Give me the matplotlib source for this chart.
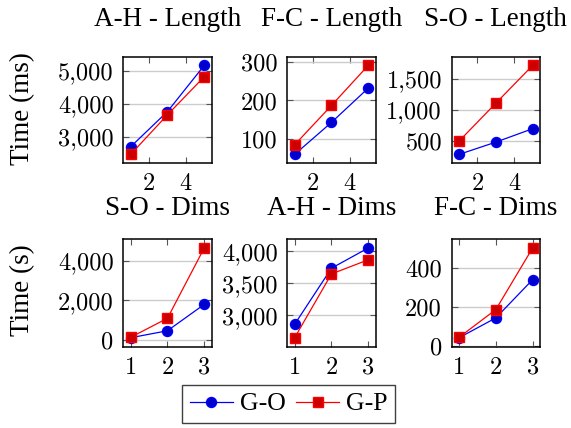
import numpy as np
import matplotlib.pyplot as plt
from matplotlib.ticker import FuncFormatter

# x values
x_len = [1, 3, 5]
x_dims = [1, 2, 3]

titles = ["A-H - Length", "F-C - Length", "S-O - Length",
          "S-O - Dims", "A-H - Dims", "F-C - Dims"]

go = [[2700, 3765, 5160],
      [60, 143, 232],
      [287, 484, 698],
      [120, 471, 1800],
      [2858, 3737, 4054],
      [41, 143, 340]]
gp = [[2470, 3667, 4818],
      [85, 187, 291],
      [500, 1107, 1712],
      [140, 1099, 4643],
      [2648, 3647, 3869],
      [43, 186, 503]]

yticks = [[3000, 4000, 5000],
          [100, 200, 300],
          [500, 1000, 1500],
          [0, 2000, 4000],
          [3000, 3500, 4000],
          [0, 200, 400]]

W, H = 571, 428
fig = plt.figure(figsize=(W / 100, H / 100), dpi=100)

lefts = [123.3, 287.3, 451.7]
rows = [(56.5, 163.3), (239.0, 346.7)]
pw = 88.3

TXT = "Liberation Serif"
TCK = "cmr10"

fmt = FuncFormatter(lambda v, p: f"{v:,.0f}")

for i in range(6):
    r, c = divmod(i, 3)
    top, bot = rows[r]
    ax = fig.add_axes([lefts[c] / W, 1 - bot / H, pw / W, (bot - top) / H])
    xs = x_len if r == 0 else x_dims
    ax.plot(xs, go[i], color="blue", lw=0.9, marker="o", ms=7.2,
            mfc="#0000cc", mec="blue", label="G-O", zorder=3)
    ax.plot(xs, gp[i], color="red", lw=0.9, marker="s", ms=7.6,
            mfc="#cc0000", mec="red", label="G-P", zorder=3)

    # pgfplots style 10% enlargement
    lo = min(xs); hi = max(xs); d = (hi - lo) * 0.1
    ax.set_xlim(lo - d, hi + d)
    allv = go[i] + gp[i]
    lo = min(allv); hi = max(allv); d = (hi - lo) * 0.1
    ax.set_ylim(lo - d, hi + d)

    ax.set_xticks([2, 4] if r == 0 else [1, 2, 3])
    ax.set_yticks(yticks[i])
    ax.yaxis.set_major_formatter(fmt)
    ax.grid(axis="y", color="#cccccc", lw=1.0, zorder=0)
    ax.tick_params(direction="in", length=4, width=0.8, color="#555555",
                   top=True, right=True, labelsize=17.5, pad=7)
    for lab in ax.get_xticklabels() + ax.get_yticklabels():
        lab.set_family(TCK)
    for s in ax.spines.values():
        s.set_linewidth(1.1)
    xc = lefts[c] + pw / 2
    base = 26.5 if r == 0 else 215
    fig.text(xc / W, 1 - base / H, titles[i], ha="center", va="baseline",
             family=TXT, fontsize=19.5)
    if i == 0:
        handles, labels = ax.get_legend_handles_labels()

fig.text(23 / W, 1 - 109 / H, "Time (ms)", rotation=90, ha="center",
         va="center", family=TXT, fontsize=19.5)
fig.text(23 / W, 1 - 290 / H, "Time (s)", rotation=90, ha="center",
         va="center", family=TXT, fontsize=19.5)

leg = fig.legend(handles, labels, loc="center", ncol=2,
                 bbox_to_anchor=(288.5 / W, 1 - 404 / H),
                 prop={"family": TXT, "size": 18.5}, fancybox=False,
                 edgecolor="#404040", framealpha=1, handlelength=1.7,
                 handletextpad=0.25, columnspacing=0.4, borderpad=0.3)
leg.get_frame().set_linewidth(1.0)

plt.savefig("out.png", dpi=100)
